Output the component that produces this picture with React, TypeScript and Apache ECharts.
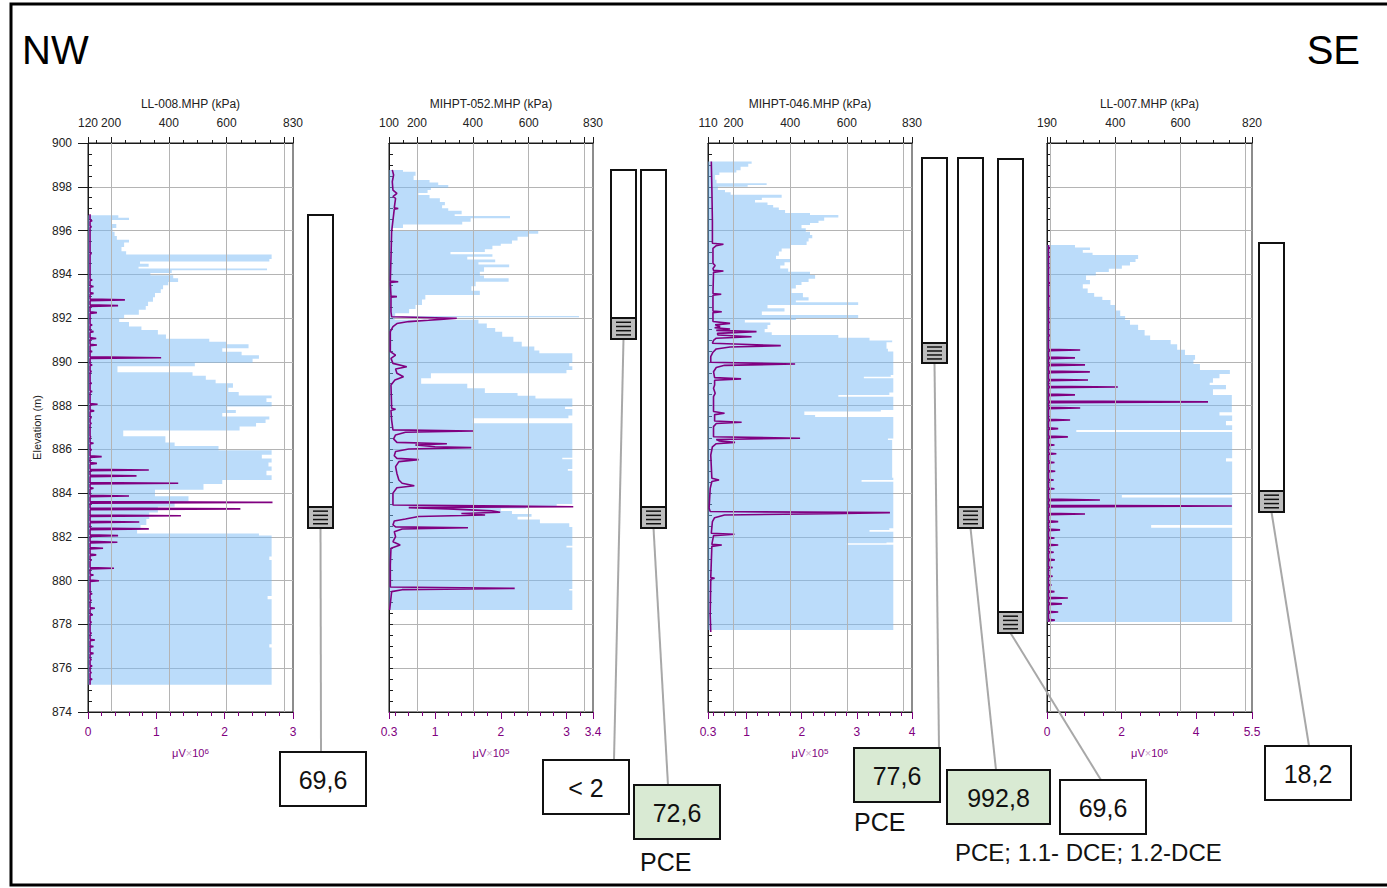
import React, { useEffect, useRef } from 'react';
import * as echarts from 'echarts';

// ---------------- data ----------------
const panelTitles = ['LL-008.MHP (kPa)', 'MIHPT-052.MHP (kPa)', 'MIHPT-046.MHP (kPa)', 'LL-007.MHP (kPa)'];
const kpaMin = [120, 100, 110, 190];
const kpaMax = [830, 830, 830, 820];
const kpaLabels = [[120, 200, 400, 600, 830], [100, 200, 400, 600, 830], [110, 200, 400, 600, 830], [190, 400, 600, 820]];
const kpaGridLines = [[200, 400, 600, 800], [200, 400, 600, 800], [200, 400, 600, 800], [200, 400, 600, 800]];
const ecMin = [0, 0.3, 0.3, 0];
const ecMax = [3, 3.4, 4, 5.5];
const ecLabels = [[0, 1, 2, 3], [0.3, 1, 2, 3, 3.4], [0.3, 1, 2, 3, 4], [0, 2, 4, 5.5]];
const ecMinorStep = [0.2, 0.2, 0.2, 0.5];
const ecExponent = [6, 5, 5, 6];
const elevMin = 874;
const elevMax = 900;

// Pressure profiles: segment top elevation (m) and kPa until next segment
const p1SegTop = [896.70, 896.58, 896.48, 896.30, 896.12, 895.95, 895.75, 895.58, 895.45, 895.25, 895.05, 894.90, 894.70, 894.58, 894.48, 894.35, 894.26, 894.18, 894.06, 893.96, 893.82, 893.65, 893.50, 893.32, 893.15, 892.95, 892.75, 892.55, 892.38, 892.15, 891.98, 891.82, 891.62, 891.45, 891.25, 891.06, 890.92, 890.80, 890.62, 890.46, 890.30, 890.14, 889.96, 889.80, 889.52, 889.36, 889.18, 889.02, 888.82, 888.62, 888.46, 888.34, 888.16, 887.96, 887.80, 887.66, 887.50, 887.36, 887.20, 887.05, 886.86, 886.60, 886.32, 886.15, 885.96, 885.76, 885.58, 885.40, 885.22, 885.02, 884.82, 884.60, 884.42, 884.15, 883.86, 883.62, 883.38, 883.12, 882.82, 882.55, 882.32, 882.16, 882.06, 881.10, 880.95, 879.30, 879.15, 877.10, 876.95];
const p1Kpa = [225, 262, 200, 218, 205, 212, 220, 262, 245, 236, 252, 756, 748, 300, 330, 295, 740, 410, 336, 415, 432, 398, 380, 372, 352, 345, 328, 320, 296, 245, 228, 262, 305, 362, 390, 540, 600, 676, 585, 652, 712, 690, 490, 222, 482, 528, 562, 622, 606, 642, 756, 738, 756, 602, 632, 585, 748, 735, 702, 645, 242, 388, 420, 572, 756, 722, 756, 745, 756, 738, 756, 585, 520, 352, 468, 420, 362, 332, 322, 302, 290, 712, 756, 748, 756, 742, 756, 748, 756];
const p1Bottom = 875.24;

const p2SegTop = [898.77, 898.69, 898.50, 898.31, 898.20, 898.08, 897.95, 897.85, 897.72, 897.62, 897.47, 897.30, 897.15, 897.02, 896.90, 896.75, 896.66, 896.56, 896.40, 896.28, 896.12, 895.98, 895.85, 895.72, 895.55, 895.40, 895.30, 895.15, 895.02, 894.92, 894.80, 894.68, 894.55, 894.45, 894.32, 894.12, 893.95, 893.82, 893.66, 893.45, 893.25, 893.06, 892.85, 892.60, 892.42, 892.22, 892.10, 892.04, 891.92, 891.75, 891.55, 891.38, 891.15, 890.92, 890.70, 890.52, 890.39, 889.95, 889.80, 889.63, 889.48, 889.25, 889.00, 888.79, 888.58, 888.45, 888.33, 887.95, 887.85, 887.55, 887.42, 887.19, 885.62, 885.55, 885.10, 885.02, 883.50, 883.40, 883.30, 883.18, 883.05, 882.92, 882.80, 882.62, 882.45, 881.60, 881.52, 879.62, 879.55];
const p2Kpa = [150, 195, 188, 245, 276, 312, 250, 238, 205, 245, 282, 300, 290, 312, 360, 335, 533, 392, 362, 150, 112, 634, 600, 560, 540, 500, 470, 443, 320, 470, 380, 480, 420, 530, 440, 425, 440, 528, 410, 395, 425, 230, 218, 195, 172, 122, 780, 120, 420, 450, 480, 505, 545, 575, 620, 638, 756, 745, 756, 735, 250, 215, 380, 443, 560, 624, 756, 730, 756, 742, 400, 756, 720, 756, 740, 756, 700, 590, 500, 540, 610, 560, 640, 745, 756, 735, 756, 745, 756];
const p2Bottom = 878.66;

const p3SegTop = [899.15, 899.05, 898.92, 898.75, 898.65, 898.54, 898.32, 898.16, 898.08, 898.00, 897.85, 897.75, 897.63, 897.50, 897.40, 897.28, 897.17, 897.05, 896.94, 896.80, 896.71, 896.60, 896.45, 896.35, 896.25, 896.10, 895.95, 895.80, 895.65, 895.50, 895.34, 895.18, 895.04, 894.85, 894.70, 894.55, 894.40, 894.27, 894.12, 893.97, 893.80, 893.65, 893.51, 893.35, 893.15, 892.95, 892.80, 892.72, 892.60, 892.45, 892.30, 892.14, 892.00, 891.91, 891.80, 891.68, 891.50, 891.35, 891.23, 891.10, 890.98, 890.90, 890.60, 890.47, 889.40, 889.32, 889.25, 888.60, 888.49, 888.40, 887.80, 887.73, 887.57, 887.48, 886.50, 886.43, 884.70, 884.60, 884.52, 882.40, 882.32, 882.24, 881.75, 881.71, 881.64];
const p3Kpa = [264, 252, 225, 210, 150, 135, 140, 317, 250, 145, 170, 190, 370, 300, 276, 320, 340, 360, 382, 470, 570, 520, 500, 470, 440, 455, 470, 478, 465, 458, 400, 370, 360, 350, 400, 380, 365, 393, 470, 488, 465, 440, 420, 405, 445, 465, 420, 640, 320, 380, 300, 640, 420, 240, 330, 320, 310, 335, 570, 680, 760, 740, 745, 764, 755, 660, 764, 750, 570, 764, 720, 450, 488, 764, 745, 760, 764, 652, 764, 750, 680, 764, 740, 600, 764];
const p3Bottom = 877.75;

const p4SegTop = [895.34, 895.22, 895.11, 894.98, 894.88, 894.70, 894.56, 894.40, 894.25, 894.11, 893.95, 893.74, 893.55, 893.35, 893.15, 892.98, 892.83, 892.60, 892.35, 892.10, 891.91, 891.70, 891.45, 891.20, 891.00, 890.80, 890.55, 890.31, 890.10, 889.90, 889.63, 889.45, 889.25, 889.05, 888.94, 888.75, 888.49, 887.70, 887.55, 887.30, 887.10, 886.89, 886.80, 885.60, 885.45, 883.92, 883.80, 882.55, 882.42];
const p4Kpa = [276, 322, 300, 330, 470, 462, 445, 420, 380, 340, 310, 322, 300, 315, 335, 360, 385, 400, 415, 430, 445, 470, 490, 507, 570, 590, 614, 645, 640, 660, 752, 720, 700, 690, 740, 700, 758, 720, 759, 740, 759, 280, 759, 740, 759, 420, 759, 510, 759];
const p4Bottom = 878.11;

// Conductivity (µV) profiles
const p1EcBase = 0.03;
const p1EcTop = 896.75;
const p1EcBottom = 875.24;
const p1SpikeElev = [896.45, 896.17, 894.95, 893.74, 893.44, 893.13, 892.83, 892.57, 892.25, 891.68, 891.38, 891.07, 890.77, 890.47, 890.19, 889.86, 889.56, 889.02, 888.64, 888.06, 887.76, 887.46, 887.19, 886.58, 886.28, 885.98, 885.67, 885.36, 885.06, 884.79, 884.45, 884.22, 883.87, 883.58, 883.28, 882.97, 882.68, 882.37, 882.06, 881.76, 881.48, 881.18, 880.94, 880.57, 880.26, 880.0, 879.4, 879.1, 878.74, 878.44, 878.1, 877.6, 877.29, 876.99, 876.68, 876.4, 876.1, 875.8, 875.5];
const p1SpikeVal = [0.06, 0.05, 0.05, 0.06, 0.08, 0.08, 0.54, 0.44, 0.13, 0.06, 0.08, 0.12, 0.13, 0.06, 1.07, 0.06, 0.05, 0.05, 0.06, 0.14, 0.09, 0.05, 0.05, 0.04, 0.08, 0.05, 0.2, 0.13, 0.89, 0.71, 1.32, 0.08, 0.6, 2.7, 2.23, 1.36, 0.75, 0.89, 0.44, 0.43, 0.22, 0.12, 0.05, 0.38, 0.08, 0.16, 0.06, 0.05, 0.1, 0.07, 0.05, 0.05, 0.1, 0.08, 0.08, 0.05, 0.06, 0.05, 0.06];

const p2EcElev = [898.77, 898.54, 898.23, 897.85, 897.70, 897.55, 897.47, 897.04, 897.01, 896.98, 895.95, 894.73, 893.69, 893.66, 893.63, 893.01, 892.98, 892.95, 892.29, 892.06, 891.99, 891.94, 891.90, 891.84, 891.75, 891.61, 891.38, 890.47, 890.31, 890.16, 889.93, 889.78, 889.67, 889.48, 889.32, 889.17, 888.94, 887.88, 887.83, 887.78, 887.34, 886.89, 886.84, 886.78, 886.66, 886.48, 886.32, 886.26, 886.20, 886.12, 886.08, 886.02, 885.90, 885.71, 885.59, 885.53, 885.44, 885.21, 884.90, 884.60, 884.45, 884.34, 884.25, 884.00, 883.46, 883.38, 883.34, 883.28, 883.19, 883.13, 883.07, 883.00, 882.93, 882.82, 882.73, 882.55, 882.46, 882.42, 882.36, 882.24, 882.01, 881.78, 881.63, 881.48, 880.72, 879.71, 879.65, 879.59, 879.50, 878.66];
const p2EcVal = [0.35, 0.37, 0.35, 0.36, 0.42, 0.36, 0.40, 0.38, 0.44, 0.38, 0.34, 0.33, 0.32, 0.44, 0.32, 0.33, 0.42, 0.33, 0.33, 0.34, 1.33, 1.08, 0.9, 0.6, 0.42, 0.36, 0.32, 0.32, 0.40, 0.33, 0.36, 0.57, 0.40, 0.42, 0.52, 0.39, 0.33, 0.34, 0.40, 0.33, 0.34, 0.36, 1.58, 0.55, 0.40, 0.37, 0.42, 1.18, 0.7, 1.0, 1.55, 0.6, 0.40, 0.38, 0.42, 0.75, 0.45, 0.40, 0.42, 0.45, 0.5, 0.685, 0.42, 0.36, 0.36, 3.1, 0.6, 1.2, 1.86, 1.99, 1.4, 1.76, 0.75, 0.55, 0.38, 0.36, 0.40, 1.5, 0.5, 0.38, 0.40, 0.36, 0.47, 0.33, 0.32, 0.32, 2.21, 0.5, 0.34, 0.31];

const p3EcElev = [899.15, 897.93, 896.41, 895.42, 895.37, 895.31, 895.19, 894.50, 894.40, 894.27, 894.18, 894.15, 894.09, 893.12, 893.09, 893.04, 892.32, 892.29, 892.25, 891.84, 891.76, 891.69, 891.61, 891.56, 891.50, 891.44, 891.38, 891.30, 891.23, 891.15, 891.08, 890.98, 890.85, 890.74, 890.68, 890.59, 890.44, 890.24, 889.98, 889.90, 889.84, 889.74, 889.55, 889.28, 889.22, 889.16, 888.94, 888.79, 888.56, 888.41, 887.73, 887.65, 887.59, 887.30, 887.24, 887.18, 887.04, 886.58, 886.51, 886.45, 886.39, 886.32, 886.26, 886.12, 885.74, 884.68, 884.60, 884.53, 884.22, 883.31, 883.16, 883.11, 883.06, 883.00, 882.88, 882.70, 882.17, 882.12, 882.06, 881.66, 881.63, 881.57, 880.14, 880.11, 880.07, 878.43, 877.66];
const p3EcVal = [0.36, 0.37, 0.38, 0.38, 0.58, 0.45, 0.39, 0.39, 0.43, 0.39, 0.40, 0.58, 0.40, 0.39, 0.54, 0.39, 0.39, 0.55, 0.39, 0.39, 0.70, 0.43, 0.52, 0.42, 0.70, 0.45, 1.18, 0.47, 0.48, 1.09, 0.45, 0.40, 0.38, 1.62, 0.7, 0.45, 0.39, 0.35, 0.35, 1.88, 0.6, 0.45, 0.40, 0.42, 0.9, 0.42, 0.42, 0.40, 0.43, 0.40, 0.40, 0.6, 0.42, 0.42, 0.91, 0.45, 0.40, 0.40, 1.97, 0.45, 0.50, 0.79, 0.45, 0.38, 0.35, 0.37, 0.5, 0.37, 0.34, 0.32, 0.34, 3.6, 2.48, 0.6, 0.42, 0.38, 0.36, 0.78, 0.40, 0.37, 0.55, 0.37, 0.35, 0.42, 0.35, 0.34, 0.35];

const p4EcBase = 0.04;
const p4EcTop = 895.34;
const p4EcBottom = 878.11;
const p4SpikeElev = [895.2, 894.8, 894.3, 893.6, 893.0, 892.4, 891.8, 891.2, 890.54, 890.18, 889.86, 889.54, 889.17, 888.85, 888.49, 888.17, 887.89, 887.34, 886.95, 886.57, 886.2, 885.8, 885.4, 885.0, 884.6, 884.2, 883.69, 883.41, 883.05, 882.7, 882.32, 881.95, 881.63, 881.3, 880.95, 880.6, 880.2, 879.8, 879.5, 879.21, 878.94, 878.57, 878.2];
const p4SpikeVal = [0.08, 0.07, 0.06, 0.08, 0.07, 0.06, 0.07, 0.08, 0.89, 0.75, 1.02, 1.15, 1.1, 1.9, 0.75, 4.32, 0.89, 0.62, 0.3, 0.56, 0.2, 0.25, 0.2, 0.22, 0.18, 0.2, 1.42, 4.96, 1.02, 0.3, 0.35, 0.2, 0.3, 0.18, 0.21, 0.15, 0.15, 0.12, 0.2, 0.56, 0.4, 0.3, 0.21];

// Wells (elevations in m)
const wellTop = [896.71, 898.77, 898.77, 899.31, 899.31, 899.27, 895.43];
const wellScreenTop = [883.37, 892.0, 883.37, 890.86, 883.37, 878.57, 884.1];
const wellBottom = [882.41, 891.04, 882.41, 889.95, 882.41, 877.61, 883.14];
const resultText = ['69,6', '< 2', '72,6', '77,6', '992,8', '69,6', '18,2'];
const resultDetected = [false, false, true, true, true, false, false];

// ---------------- layout ----------------
const FONT = '"Liberation Sans", Arial, sans-serif';
const PURPLE = '#800080';
const FILL = 'rgba(120,185,245,0.5)';
const GRIDLINE = '#b4b4b4';
const panelLeft = [88, 389, 708, 1047];
const panelWidth = [205, 204, 204, 205];
const plotTop = 143;
const plotHeight = 569;
const wellLeft = [308, 611, 641, 922, 958, 998, 1259];
const wellW = 25;
const boxRect = [[280, 752, 86, 54], [543, 760, 86, 54], [634, 785, 86, 54], [854, 748, 86, 54], [947, 770, 103, 54], [1060, 780, 86, 54], [1265, 746, 86, 54]];
const connEnd = [[321, 752], [614, 760], [668, 785], [939, 748], [996, 770], [1101, 780], [1309, 746]];

const pressureTops = [p1SegTop, p2SegTop, p3SegTop, p4SegTop];
const pressureVals = [p1Kpa, p2Kpa, p3Kpa, p4Kpa];
const pressureBottoms = [p1Bottom, p2Bottom, p3Bottom, p4Bottom];

function spikeLine(base: number, top: number, bottom: number, el: number[], val: number[]) {
  const pts: number[][] = [[base, top]];
  const idx = el.map((_, i) => i).sort((a, b) => el[b] - el[a]);
  idx.forEach((i) => {
    pts.push([base, el[i] + 0.035]);
    pts.push([val[i], el[i]]);
    pts.push([base, el[i] - 0.035]);
  });
  pts.push([base, bottom]);
  return pts;
}
const ecData = [
  spikeLine(p1EcBase, p1EcTop, p1EcBottom, p1SpikeElev, p1SpikeVal),
  p2EcElev.map((e, i) => [p2EcVal[i], e]),
  p3EcElev.map((e, i) => [p3EcVal[i], e]),
  spikeLine(p4EcBase, p4EcTop, p4EcBottom, p4SpikeElev, p4SpikeVal),
];

function stepValues(min: number, max: number, step: number, exclude: number[]) {
  const out: number[] = [];
  const start = Math.ceil(min / step - 1e-9);
  for (let k = start; k * step <= max + 1e-9; k++) {
    const v = Math.round(k * step * 1000) / 1000;
    if (v <= min + 1e-9 || v >= max - 1e-9) continue;
    if (exclude.some((e) => Math.abs(e - v) < 1e-9)) continue;
    out.push(v);
  }
  return out;
}

function buildOption() {
  const grid: any[] = [];
  const xAxis: any[] = [];
  const yAxis: any[] = [];
  const series: any[] = [];
  for (let i = 0; i < 4; i++) {
    grid.push({
      left: panelLeft[i], top: plotTop, width: panelWidth[i], height: plotHeight,
      show: true, borderColor: '#1a1a1a', borderWidth: 1, backgroundColor: 'transparent',
      containLabel: false, outerBoundsMode: 'none',
    });
    const kMajor = Array.from(new Set([...kpaLabels[i], ...kpaGridLines[i]])).sort((a, b) => a - b);
    const kMinor = stepValues(kpaMin[i], kpaMax[i], 50, kMajor);
    const vMinor = stepValues(ecMin[i], ecMax[i], ecMinorStep[i], ecLabels[i]);
    // top kPa axis
    xAxis.push({
      type: 'value', gridIndex: i, position: 'top', min: kpaMin[i], max: kpaMax[i],
      axisLine: { show: true, lineStyle: { color: '#1a1a1a', width: 1 } },
      axisTick: { show: true, inside: false, length: 6, customValues: kMajor, lineStyle: { color: '#1a1a1a' } },
      axisLabel: { show: true, customValues: kpaLabels[i], fontSize: 12, color: '#222', margin: 14, fontFamily: FONT, hideOverlap: false },
      splitLine: { show: false },
      name: panelTitles[i], nameLocation: 'middle', nameGap: 33, nameMoveOverlap: false,
      nameTextStyle: { fontSize: 12, color: '#222', fontFamily: FONT },
    });
    xAxis.push({
      type: 'value', gridIndex: i, position: 'top', min: kpaMin[i], max: kpaMax[i],
      axisLine: { show: false },
      axisTick: { show: true, inside: false, length: 3, customValues: kMinor, lineStyle: { color: '#1a1a1a' } },
      axisLabel: { show: false }, splitLine: { show: false },
    });
    // bottom µV axis
    xAxis.push({
      type: 'value', gridIndex: i, position: 'bottom', min: ecMin[i], max: ecMax[i],
      axisLine: { show: true, lineStyle: { color: '#1a1a1a', width: 1 } },
      axisTick: { show: true, inside: false, length: 7, customValues: ecLabels[i], lineStyle: { color: PURPLE } },
      axisLabel: { show: true, customValues: ecLabels[i], fontSize: 12, color: PURPLE, margin: 14, fontFamily: FONT, hideOverlap: false },
      splitLine: { show: false },
      name: '{u|μV}{x|×}{u|10}{s|' + ecExponent[i] + '}', nameLocation: 'middle', nameGap: 35, nameMoveOverlap: false,
      nameTextStyle: {
        rich: {
          u: { fontSize: 11, color: PURPLE, fontFamily: FONT },
          x: { fontSize: 11, color: '#c9a6c9', fontFamily: FONT },
          s: { fontSize: 8, color: PURPLE, fontFamily: FONT, verticalAlign: 'top' },
        },
      },
    });
    xAxis.push({
      type: 'value', gridIndex: i, position: 'bottom', min: ecMin[i], max: ecMax[i],
      axisLine: { show: false },
      axisTick: { show: true, inside: false, length: 4, customValues: vMinor, lineStyle: { color: PURPLE } },
      axisLabel: { show: false }, splitLine: { show: false },
    });
    // elevation axes
    yAxis.push({
      type: 'value', gridIndex: i, position: 'left', min: elevMin, max: elevMax, interval: 2,
      axisLine: { show: true, lineStyle: { color: '#1a1a1a', width: 1 } },
      axisTick: { show: i === 0, inside: false, length: 10, lineStyle: { color: '#1a1a1a' } },
      axisLabel: { show: i === 0, fontSize: 12, color: '#222', margin: 16, fontFamily: FONT },
      splitLine: { show: true, lineStyle: { color: GRIDLINE, width: 1 } },
      name: i === 0 ? 'Elevation (m)' : '', nameLocation: 'middle', nameGap: 46, nameRotate: 90, nameMoveOverlap: false,
      nameTextStyle: { fontSize: 11, color: '#222', fontFamily: FONT },
    });
    yAxis.push({
      type: 'value', gridIndex: i, position: 'left', min: elevMin, max: elevMax, interval: 0.5,
      axisLine: { show: false },
      axisTick: { show: true, inside: true, length: 4, lineStyle: { color: '#1a1a1a' } },
      axisLabel: { show: false }, splitLine: { show: false },
    });

    const tops = pressureTops[i];
    const vals = pressureVals[i];
    const bottoms = tops.map((_, j) => (j + 1 < tops.length ? tops[j + 1] : pressureBottoms[i]));
    const segData = tops.map((t, j) => [vals[j], t, bottoms[j]]);
    const kMinI = kpaMin[i];
    series.push({
      type: 'custom', xAxisIndex: 4 * i, yAxisIndex: 2 * i, silent: true, z: 1,
      data: segData,
      renderItem: (params: any, api: any) => {
        if (params.dataIndexInside !== 0) return null;
        const pts: number[][] = [];
        pts.push(api.coord([kMinI, segData[0][1]]));
        segData.forEach((s) => {
          pts.push(api.coord([s[0], s[1]]));
          pts.push(api.coord([s[0], s[2]]));
        });
        pts.push(api.coord([kMinI, segData[segData.length - 1][2]]));
        return { type: 'polygon', shape: { points: pts }, style: { fill: FILL, stroke: 'none' } };
      },
      markLine: {
        silent: true, symbol: ['none', 'none'], label: { show: false },
        lineStyle: { color: GRIDLINE, width: 1, type: 'solid' },
        emphasis: { disabled: true },
        data: kpaGridLines[i].map((v) => ({ xAxis: v })),
      },
    });
    series.push({
      type: 'line', xAxisIndex: 4 * i + 2, yAxisIndex: 2 * i, silent: true, z: 3,
      data: ecData[i], showSymbol: false, symbol: 'none',
      lineStyle: { color: PURPLE, width: 1.6 },
    });
  }
  return { animation: false, textStyle: { fontFamily: FONT }, grid, xAxis, yAxis, series };
}

function buildGraphics(chart: any) {
  const toY = (e: number) => chart.convertToPixel({ yAxisIndex: 0 }, e) as number;
  const g: any[] = [];
  g.push({ type: 'rect', shape: { x: 11, y: 4, width: 1392, height: 881 }, style: { fill: 'none', stroke: '#000', lineWidth: 3 }, z: 100 });
  g.push({ type: 'text', x: 22, y: 50, style: { text: 'NW', fontSize: 40, fontFamily: FONT, fill: '#000', textAlign: 'left', textVerticalAlign: 'middle' }, z: 100 });
  g.push({ type: 'text', x: 1360, y: 50, style: { text: 'SE', fontSize: 40, fontFamily: FONT, fill: '#000', textAlign: 'right', textVerticalAlign: 'middle' }, z: 100 });
  for (let i = 0; i < wellTop.length; i++) {
    const x = wellLeft[i];
    const yt = toY(wellTop[i]);
    const ys = toY(wellScreenTop[i]);
    const yb = toY(wellBottom[i]);
    const cx = x + wellW / 2;
    g.push({ type: 'line', shape: { x1: cx, y1: yb, x2: connEnd[i][0], y2: connEnd[i][1] }, style: { stroke: '#a8a8a8', lineWidth: 2 }, z: 90 });
    g.push({ type: 'rect', shape: { x, y: yt, width: wellW, height: yb - yt }, style: { fill: '#fff', stroke: '#111', lineWidth: 2 }, z: 91 });
    g.push({ type: 'rect', shape: { x, y: ys, width: wellW, height: yb - ys }, style: { fill: '#bdbdbd', stroke: '#111', lineWidth: 2 }, z: 92 });
    for (let k = 1; k <= 4; k++) {
      const yy = ys + ((yb - ys) * k) / 5;
      g.push({ type: 'line', shape: { x1: x + 5, y1: yy, x2: x + wellW - 5, y2: yy }, style: { stroke: '#111', lineWidth: 1.5 }, z: 93 });
    }
    const b = boxRect[i];
    g.push({ type: 'rect', shape: { x: b[0], y: b[1], width: b[2], height: b[3] }, style: { fill: resultDetected[i] ? '#d9ead3' : '#fff', stroke: '#111', lineWidth: 2 }, z: 94 });
    g.push({ type: 'text', x: b[0] + b[2] / 2, y: b[1] + b[3] / 2 + 1, style: { text: resultText[i], fontSize: 25, fontFamily: FONT, fill: '#111', textAlign: 'center', textVerticalAlign: 'middle' }, z: 95 });
  }
  g.push({ type: 'text', x: 640, y: 862, style: { text: 'PCE', fontSize: 25, fontFamily: FONT, fill: '#111', textAlign: 'left', textVerticalAlign: 'middle' }, z: 95 });
  g.push({ type: 'text', x: 854, y: 822, style: { text: 'PCE', fontSize: 25, fontFamily: FONT, fill: '#111', textAlign: 'left', textVerticalAlign: 'middle' }, z: 95 });
  g.push({ type: 'text', x: 955, y: 852, style: { text: 'PCE; 1.1- DCE; 1.2-DCE', fontSize: 24, fontFamily: FONT, fill: '#111', textAlign: 'left', textVerticalAlign: 'middle' }, z: 95 });
  return g;
}

export default function App() {
  const ref = useRef<HTMLDivElement>(null);
  useEffect(() => {
    if (!ref.current) return;
    const chart = echarts.init(ref.current, undefined, { renderer: 'svg' });
    chart.setOption(buildOption() as any);
    chart.setOption({ graphic: { elements: buildGraphics(chart) } } as any);
    return () => chart.dispose();
  }, []);
  return (
    <div
      ref={ref}
      style={{ position: 'absolute', left: 0, top: 0, width: 1387, height: 888, background: '#fff' }}
    />
  );
}
